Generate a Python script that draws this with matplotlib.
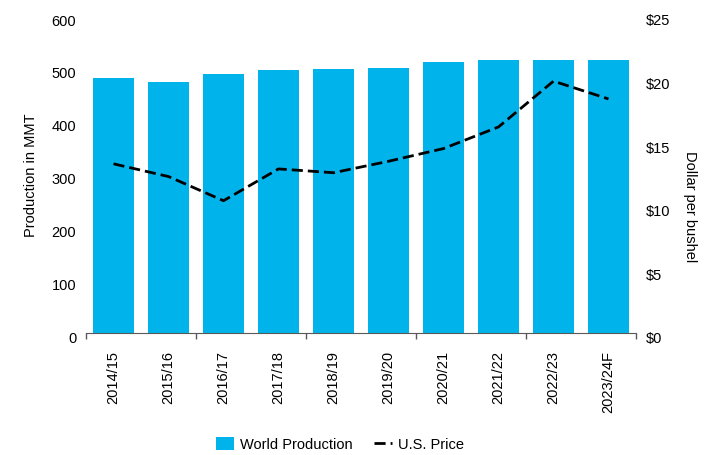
import matplotlib
matplotlib.use('Agg')
import matplotlib.pyplot as plt
import matplotlib.transforms as mtransforms
from matplotlib.ticker import FixedLocator

plt.rcParams['font.family'] = ['Liberation Sans', 'DejaVu Sans']
plt.rcParams['font.size'] = 10.5

# marketing years, world output (MMT) and U.S. price ($)
years = ['2014/15', '2015/16', '2016/17', '2017/18', '2018/19',
         '2019/20', '2020/21', '2021/22', '2022/23', '2023/24F']
production = [481, 474, 489, 496, 498, 500, 511, 515, 515, 515]
price = [13.3, 12.3, 10.4, 12.9, 12.6, 13.5, 14.5, 16.2, 19.8, 18.4]

bar_col = '#00B4EB'
axis_col = '#595959'

fig = plt.figure(figsize=(7.21, 4.56), dpi=100)
ax = fig.add_axes([86/721, 1-334/456, 550/721, 318/456])
ax2 = ax.twinx()

x = range(len(years))
b = ax.bar(x, production, width=0.73, color=bar_col, label='World Production', zorder=2)
ln, = ax2.plot(x, price, color='black', lw=2, dashes=(4, 1.8), label='U.S. Price')

ax.set_xlim(-0.5, len(years) - 0.5)
ax.set_ylim(0, 600)
ax.set_yticks(range(0, 601, 100))
ax2.set_ylim(0, 25)
ax2.set_yticks(range(0, 26, 5))
ax2.set_yticklabels(['$' + str(v) for v in range(0, 26, 5)])

ax.set_xticks(list(x))
ax.set_xticklabels(years, rotation=90, va='top')
ax.xaxis.set_minor_locator(FixedLocator([i - 0.5 for i in range(0, len(years) + 1, 2)]))
ax.tick_params(axis='x', which='major', length=0, pad=12)
ax.tick_params(axis='x', which='minor', length=4.5, width=1, color=axis_col, direction='out')
ax.tick_params(axis='y', length=0, pad=7)
ax2.tick_params(axis='y', length=0, pad=7)

for a in (ax, ax2):
    for s in a.spines.values():
        s.set_visible(False)
ax.spines['bottom'].set_visible(True)
ax.spines['bottom'].set_color(axis_col)

# labels sit a little below their gridline values
shift = mtransforms.ScaledTranslation(0, -4/100, fig.dpi_scale_trans)
for lbl in ax.get_yticklabels() + ax2.get_yticklabels():
    lbl.set_transform(lbl.get_transform() + shift)

fig.text(31/721, 1-175/456, 'Production in MMT', rotation=90, ha='center', va='center')
fig.text(690/721, 1-207/456, 'Dollar per bushel', rotation=270, ha='center', va='center')

fig.legend([b, ln], ['World Production', 'U.S. Price'], loc='center',
           bbox_to_anchor=(340/721, 1-445/456), ncol=2, frameon=False,
           handlelength=1.2, handleheight=1.0, handletextpad=0.4, columnspacing=1.5)

fig.savefig('out.png', dpi=100)
